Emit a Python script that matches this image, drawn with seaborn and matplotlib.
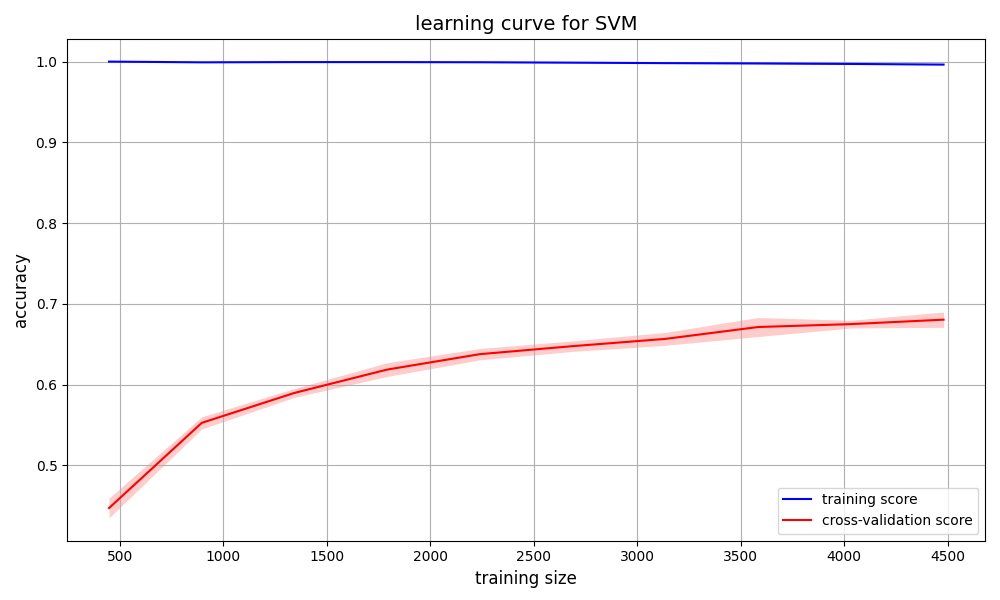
import numpy as np
import pandas as pd
import matplotlib
matplotlib.use("Agg")
import matplotlib.pyplot as plt
import seaborn as sns

train_sizes = [448, 896, 1344, 1792, 2240, 2688, 3136, 3584, 4032, 4480]
train_mean = [0.9999, 0.9990, 0.9993, 0.9993, 0.9991, 0.9986, 0.9980, 0.9976, 0.9970, 0.9962]
train_std = [0.0001, 0.0003, 0.0003, 0.0003, 0.0003, 0.0003, 0.0004, 0.0004, 0.0004, 0.0004]
cv_mean = [0.447, 0.5525, 0.5896, 0.6185, 0.6376, 0.6475, 0.6565, 0.6712, 0.6748, 0.6803]
cv_std = [0.0122, 0.0075, 0.0055, 0.0085, 0.0070, 0.0065, 0.0080, 0.0118, 0.0048, 0.0095]

df = pd.DataFrame({
    "size": train_sizes * 2,
    "score": train_mean + cv_mean,
    "kind": ["training score"] * len(train_sizes) + ["cross-validation score"] * len(train_sizes),
})

fig, ax = plt.subplots(figsize=(10, 6), dpi=100)
sns.lineplot(data=df, x="size", y="score", hue="kind",
             palette={"training score": "blue", "cross-validation score": "red"},
             ax=ax, linewidth=1.5)

tm, ts = np.array(train_mean), np.array(train_std)
cm, cs = np.array(cv_mean), np.array(cv_std)
ax.fill_between(train_sizes, tm - ts, tm + ts, color="blue", alpha=0.2, linewidth=0)
ax.fill_between(train_sizes, cm - cs, cm + cs, color="red", alpha=0.2, linewidth=0)

ax.set_title("learning curve for SVM", fontsize=14)
ax.set_xlabel("training size", fontsize=12)
ax.set_ylabel("accuracy", fontsize=12)
ax.grid(True)
ax.legend(loc="lower right", title=None)
fig.subplots_adjust(left=0.0673, right=0.9853, top=0.9355, bottom=0.0988)
fig.savefig("out.png", dpi=100)
